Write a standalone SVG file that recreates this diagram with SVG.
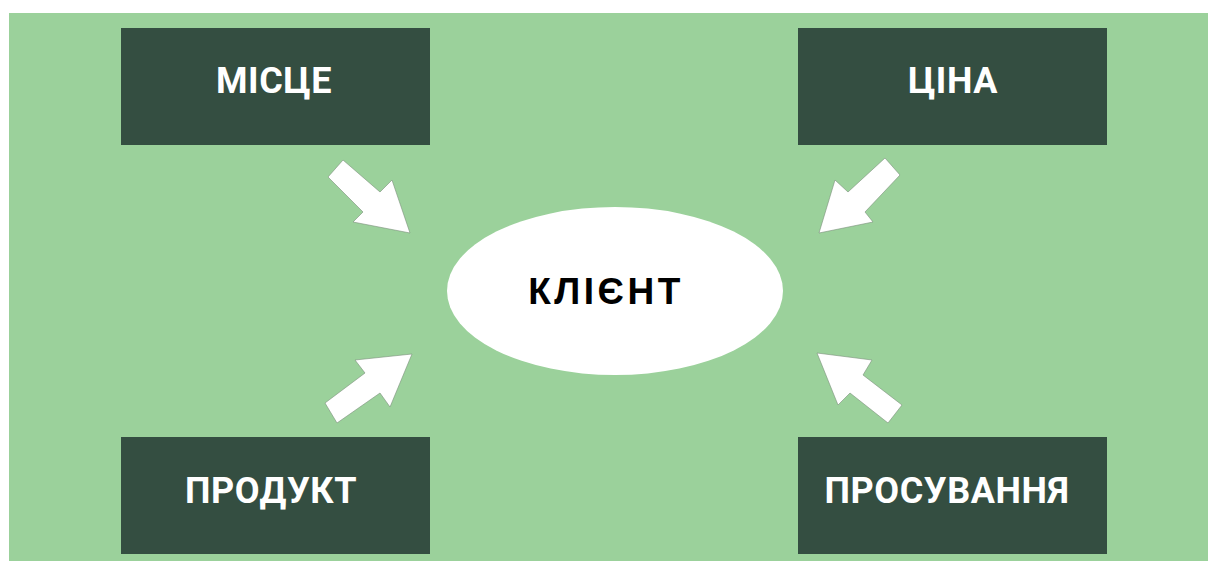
<svg xmlns="http://www.w3.org/2000/svg" width="1208" height="561" viewBox="0 0 1208 561">
<style>
.box{fill:#344e41}
.lbl{font-family:Roboto,"Liberation Sans",sans-serif;font-weight:bold;font-size:36px;letter-spacing:0.6px;fill:#ffffff;text-anchor:middle}
.arrow{fill:#ffffff;stroke:#7a8f7a;stroke-width:0.6;stroke-linejoin:miter}
</style>
<rect x="0" y="0" width="1208" height="561" fill="#ffffff"/>
<rect x="9" y="13" width="1199" height="548" fill="#9bd19b"/>
<g id="node-mistse"><rect class="box" x="121" y="28" width="309" height="117"/><text class="lbl" x="274" y="93">МІСЦЕ</text></g>
<g id="node-tsina"><rect class="box" x="798" y="28" width="309" height="117"/><text class="lbl" x="953" y="93">ЦІНА</text></g>
<g id="node-produkt"><rect class="box" x="121" y="437" width="309" height="117"/><text class="lbl" x="271" y="503">ПРОДУКТ</text></g>
<g id="node-prosuvannya"><rect class="box" x="798" y="437" width="309" height="117"/><text class="lbl" x="947" y="503">ПРОСУВАННЯ</text></g>
<g id="node-client"><ellipse cx="615" cy="291" rx="168" ry="84" fill="#ffffff"/><text x="606" y="304" font-family="'Liberation Sans',Arial,sans-serif" font-weight="bold" font-size="37" letter-spacing="3.5" fill="#000000" text-anchor="middle">КЛІЄНТ</text></g>
<g id="connectors">
<polygon class="arrow" points="343,160 380,192 392,180 410,233 353,222 363,212 328,177"/>
<polygon class="arrow" points="325,403 365,373 355,360 412,354 390,407 380,393 337,423"/>
<polygon class="arrow" points="885,158 900,175 865,212 873,222 819,233 835,180 848,192"/>
<polygon class="arrow" points="817,353 872,360 863,375 902,405 888,423 850,393 838,405"/>
</g>
</svg>
